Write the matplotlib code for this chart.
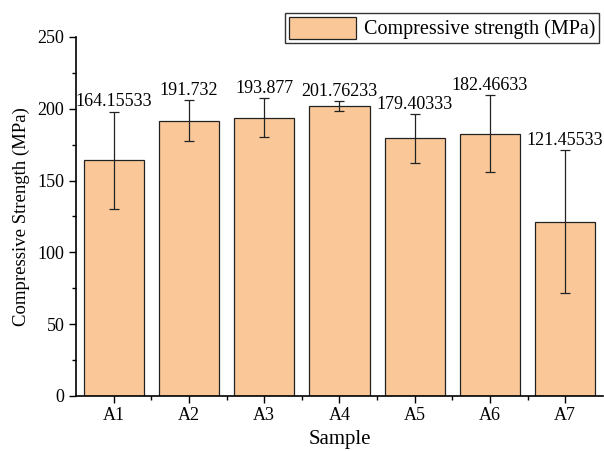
import numpy as np
import matplotlib.pyplot as plt

plt.rcParams['font.family'] = ['Liberation Serif', 'DejaVu Serif']

# data
samples = ['A1', 'A2', 'A3', 'A4', 'A5', 'A6', 'A7']
strength = [164.15533, 191.732, 193.877, 201.76233, 179.40333, 182.46633, 121.45533]
errors = [33.8, 14.4, 13.5, 3.5, 17.0, 26.8, 49.7]
labels = ['164.15533', '191.732', '193.877', '201.76233', '179.40333', '182.46633', '121.45533']

x = np.arange(1, len(samples) + 1)

fig = plt.figure(figsize=(6.04, 4.51), dpi=100)
ax = fig.add_axes([0.126, 0.122, 0.872, 0.796])

ax.bar(x, strength, width=0.8, color='#FAC898', edgecolor='#222222', linewidth=0.9,
       label='Compressive strength (MPa)', zorder=2)
ax.errorbar(x, strength, yerr=errors, fmt='none', ecolor='#222222', elinewidth=0.9,
            capsize=3.5, capthick=0.9, zorder=3)

for xi, yi, e, lab in zip(x, strength, errors, labels):
    ax.text(xi, yi + e + 1.0, lab, ha='center', va='bottom', fontsize=13)

ax.set_xlim(0.5, 7.5)
ax.set_ylim(0, 250)
ax.set_xticks(x)
ax.set_xticklabels(samples)
ax.set_xticks(x[:-1] + 0.5, minor=True)
ax.set_yticks(np.arange(0, 251, 50))
ax.set_yticks(np.arange(25, 250, 50), minor=True)
ax.tick_params(axis='both', which='major', direction='out', length=5, width=1, labelsize=13)
ax.tick_params(axis='both', which='minor', direction='out', length=3, width=1)
ax.tick_params(axis='x', pad=3)

ax.spines['top'].set_visible(False)
ax.spines['right'].set_visible(False)
ax.spines['left'].set_linewidth(1.2)
ax.spines['bottom'].set_linewidth(1.2)

ax.set_ylabel('Compressive Strength (MPa)', fontsize=13.5, labelpad=5)
ax.set_xlabel('Sample', fontsize=15, labelpad=4)

leg = ax.legend(loc='upper right', bbox_to_anchor=(0.992, 0.972), bbox_transform=fig.transFigure,
                fontsize=14.5, frameon=True, fancybox=False, edgecolor='black',
                borderpad=0.2, handlelength=3.3, handleheight=1.3, handletextpad=0.4,
                borderaxespad=0)
leg.get_frame().set_linewidth(1.0)

fig.savefig('out.png', dpi=100)
